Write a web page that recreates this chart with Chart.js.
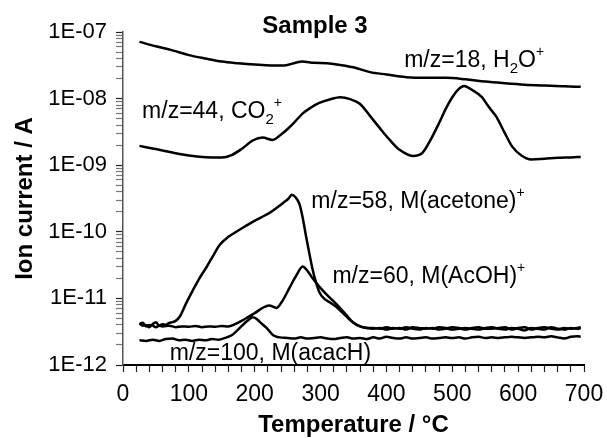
<!DOCTYPE html>
<html>
<head>
<meta charset="utf-8">
<script src="https://cdn.jsdelivr.net/npm/chart.js@4.4.0/dist/chart.umd.min.js"></script>
<style>
  html, body { margin: 0; padding: 0; background: #fff; }
</style>
</head>
<body>
<canvas id="myChart" width="607" height="438"></canvas>
<script>
const ctx = document.getElementById("myChart");

// ion currents (A) vs temperature (°C)
const h2oTemps = [25, 50, 75, 100, 125, 150, 175, 200, 225, 245, 262, 272, 290, 310, 330, 350, 375, 400, 430, 460, 490, 520, 550, 580, 610, 640, 670, 695];
const h2oValues = [7.1e-8, 6.1e-8, 5.3e-8, 4.5e-8, 4.0e-8, 3.6e-8, 3.4e-8, 3.25e-8, 3.15e-8, 3.15e-8, 3.45e-8, 3.6e-8, 3.45e-8, 3.4e-8, 3.2e-8, 2.95e-8, 2.5e-8, 2.3e-8, 2.1e-8, 2.05e-8, 2.05e-8, 1.95e-8, 1.8e-8, 1.7e-8, 1.62e-8, 1.57e-8, 1.53e-8, 1.5e-8];

const co2Temps = [25, 50, 75, 100, 125, 150, 165, 180, 197, 212, 227, 240, 250, 262, 273, 285, 298, 315, 330, 345, 360, 375, 390, 405, 420, 440, 455, 467, 480, 490, 500, 510, 518, 530, 545, 555, 567, 580, 591, 605, 620, 640, 660, 680, 695];
const co2Values = [1.95e-9, 1.75e-9, 1.55e-9, 1.4e-9, 1.32e-9, 1.3e-9, 1.42e-9, 1.75e-9, 2.35e-9, 2.6e-9, 2.4e-9, 2.9e-9, 3.5e-9, 4.6e-9, 6.0e-9, 7.3e-9, 8.6e-9, 9.8e-9, 1.05e-8, 9.8e-9, 8.3e-9, 5.5e-9, 3.6e-9, 2.4e-9, 1.7e-9, 1.38e-9, 1.55e-9, 2.4e-9, 4.3e-9, 7.0e-9, 1.05e-8, 1.4e-8, 1.55e-8, 1.35e-8, 1.05e-8, 7.6e-9, 5.3e-9, 3.0e-9, 1.9e-9, 1.4e-9, 1.22e-9, 1.25e-9, 1.29e-9, 1.31e-9, 1.33e-9];

const acetoneTemps = [25, 30, 35, 40, 45, 50, 55, 60, 65, 70, 75, 80, 86, 96, 106, 116, 127, 137, 147, 160, 172, 185, 197, 210, 223, 235, 245, 252, 256, 262, 268, 273, 278, 283, 288, 293, 298, 305, 315, 325, 338, 350, 360, 370, 380, 390, 400, 410, 420, 430, 440, 450, 460, 470, 480, 490, 500, 510, 520, 530, 540, 550, 560, 570, 580, 590, 600, 610, 620, 630, 640, 650, 660, 670, 680, 690, 695];
const acetoneValues = [4.2e-12, 3.9e-12, 4.0e-12, 3.7e-12, 4.1e-12, 4.4e-12, 3.9e-12, 4.1e-12, 4.0e-12, 4.3e-12, 4.4e-12, 4.6e-12,
  5.3e-12, 8.5e-12, 1.32e-11, 2.0e-11, 2.96e-11, 4.4e-11, 6.4e-11, 8.4e-11, 1.0e-10, 1.2e-10,
  1.41e-10, 1.65e-10, 1.94e-10, 2.35e-10, 2.8e-10, 3.2e-10, 3.6e-10, 3.3e-10, 2.6e-10, 1.6e-10,
  8.5e-11, 4.7e-11, 2.7e-11, 1.75e-11, 1.25e-11, 1.0e-11, 8.6e-12, 7.3e-12, 5.5e-12, 4.3e-12,
  3.8e-12, 3.6e-12,
  3.5e-12, 3.6e-12, 3.4e-12, 3.6e-12, 3.5e-12, 3.7e-12, 3.5e-12, 3.4e-12, 3.6e-12, 3.5e-12,
  3.7e-12, 3.6e-12, 3.4e-12, 3.5e-12, 3.6e-12, 3.5e-12, 3.4e-12, 3.6e-12, 3.7e-12, 3.5e-12,
  3.4e-12, 3.6e-12, 3.5e-12, 3.3e-12, 3.6e-12, 3.5e-12, 3.4e-12, 3.7e-12, 3.5e-12, 3.4e-12,
  3.6e-12, 3.5e-12, 3.6e-12];

const acohTemps = [25, 30, 35, 40, 45, 50, 55, 60, 70, 80, 90, 100, 110, 120, 130, 140, 150, 160, 170, 180, 188, 200, 213, 222, 233, 243, 253, 263, 273, 280, 288, 298, 309, 320, 329, 340, 350, 360, 370, 380, 390, 400, 410, 420, 430, 440, 450, 460, 470, 480, 490, 500, 510, 520, 530, 540, 550, 560, 570, 580, 590, 600, 610, 620, 630, 640, 650, 660, 670, 680, 690, 695];
const acohValues = [4.1e-12, 4.3e-12, 3.8e-12, 4.0e-12, 3.9e-12, 3.7e-12, 3.9e-12, 3.8e-12,
  3.9e-12, 3.7e-12, 3.8e-12, 3.75e-12, 3.85e-12, 3.7e-12, 3.8e-12, 3.75e-12, 3.85e-12, 3.8e-12,
  4.1e-12, 4.6e-12, 5.1e-12, 6.0e-12, 7.3e-12, 7.8e-12, 7.2e-12, 9.5e-12, 1.45e-11, 2.2e-11,
  3.0e-11, 2.6e-11, 2.0e-11, 1.5e-11, 1.15e-11, 9.0e-12, 7.3e-12, 5.5e-12, 4.3e-12, 3.8e-12,
  3.6e-12,
  3.6e-12, 3.5e-12, 3.7e-12, 3.5e-12, 3.6e-12, 3.4e-12, 3.7e-12, 3.6e-12, 3.5e-12, 3.6e-12,
  3.4e-12, 3.5e-12, 3.7e-12, 3.6e-12, 3.4e-12, 3.6e-12, 3.7e-12, 3.5e-12, 3.5e-12, 3.6e-12,
  3.7e-12, 3.4e-12, 3.6e-12, 3.7e-12, 3.4e-12, 3.6e-12, 3.7e-12, 3.5e-12, 3.4e-12, 3.6e-12,
  3.5e-12, 3.6e-12, 3.7e-12];

const acacTemps = [25, 35, 45, 55, 65, 75, 85, 95, 105, 115, 125, 135, 145, 155, 165, 172, 182, 190, 197, 203, 208, 218, 228, 238, 250, 260, 270, 280, 290, 300, 310, 320, 330, 340, 350, 360, 370, 380, 390, 400, 410, 420, 430, 440, 450, 460, 470, 480, 490, 500, 510, 520, 530, 540, 550, 560, 570, 580, 590, 600, 610, 620, 630, 640, 650, 660, 670, 680, 690, 695];
const acacValues = [2.35e-12, 2.3e-12, 2.4e-12, 2.3e-12, 2.45e-12, 2.5e-12, 2.35e-12, 2.4e-12, 2.3e-12, 2.4e-12, 2.35e-12, 2.45e-12, 2.4e-12, 2.55e-12, 2.8e-12,
  3.2e-12, 4.0e-12, 4.7e-12, 5.2e-12, 4.9e-12, 4.4e-12, 3.6e-12, 2.8e-12, 2.6e-12,
  2.55e-12, 2.5e-12, 2.6e-12, 2.5e-12, 2.55e-12, 2.6e-12, 2.5e-12, 2.45e-12, 2.55e-12, 2.6e-12,
  2.5e-12, 2.55e-12, 2.45e-12, 2.6e-12, 2.5e-12, 2.65e-12, 2.55e-12, 2.5e-12, 2.6e-12, 2.5e-12,
  2.55e-12, 2.6e-12, 2.5e-12, 2.55e-12, 2.6e-12, 2.55e-12, 2.6e-12, 2.5e-12, 2.6e-12, 2.65e-12,
  2.55e-12, 2.6e-12, 2.55e-12, 2.6e-12, 2.65e-12, 2.6e-12, 2.55e-12, 2.6e-12, 2.65e-12, 2.6e-12,
  2.7e-12, 2.6e-12, 2.5e-12, 2.65e-12, 2.7e-12, 2.65e-12];

// axis ticks
const yDecades = [1e-12, 1e-11, 1e-10, 1e-9, 1e-8, 1e-7];
const xLabelStep = 100;
const xTickStep = 20;

const FONT = "'Liberation Sans', Arial, Helvetica, sans-serif";
Chart.defaults.font.family = FONT;
Chart.defaults.color = "#000";

const toPoints = (temps, values) => temps.map((t, i) => ({ x: t, y: values[i] }));

const isDecade = (v) => yDecades.some((d) => Math.abs(v / d - 1) < 1e-6);

// text labels next to the curves: [text, kind]
const notes = [
  { x: 427, y: 3.0e-8, parts: [["m/z=18, H"], ["2", "sub"], ["O"], ["+", "sup"]] },
  { x: 29, y: 5.1e-9, parts: [["m/z=44, CO"], ["2", "sub"], ["+", "sup"]] },
  { x: 286, y: 2.25e-10, parts: [["m/z=58, M(acetone)"], ["+", "sup"]] },
  { x: 318, y: 1.7e-11, parts: [["m/z=60, M(AcOH)"], ["+", "sup"]] },
  { x: 71, y: 1.19e-12, parts: [["m/z=100, M(acacH)"]] },
];

const notesPlugin = {
  id: "notes",
  afterDraw(chart) {
    const c = chart.ctx;
    const xs = chart.scales.x;
    const ys = chart.scales.y;
    c.save();
    c.fillStyle = "#000";
    c.textBaseline = "alphabetic";
    c.textAlign = "left";
    notes.forEach((n) => {
      let px = xs.getPixelForValue(n.x);
      const py = ys.getPixelForValue(n.y);
      n.parts.forEach(([text, kind]) => {
        let dy = 0;
        if (kind === "sub") { c.font = "15px " + FONT; dy = 6; }
        else if (kind === "sup") { c.font = "14px " + FONT; dy = -11; }
        else { c.font = "23px " + FONT; }
        c.fillText(text, px, py + dy);
        px += c.measureText(text).width;
      });
    });
    // chart title
    c.font = "bold 24px " + FONT;
    c.textAlign = "center";
    c.fillText("Sample 3", 315, 33);
    c.restore();
  },
};

const myChart = new Chart(ctx, {
  type: "line",
  data: {
    datasets: [
      { label: "m/z=18", data: toPoints(h2oTemps, h2oValues), cubicInterpolationMode: "monotone" },
      { label: "m/z=44", data: toPoints(co2Temps, co2Values), cubicInterpolationMode: "monotone" },
      { label: "m/z=58", data: toPoints(acetoneTemps, acetoneValues), cubicInterpolationMode: "monotone" },
      { label: "m/z=60", data: toPoints(acohTemps, acohValues), cubicInterpolationMode: "monotone" },
      { label: "m/z=100", data: toPoints(acacTemps, acacValues), cubicInterpolationMode: "monotone" },
    ],
  },
  options: {
    responsive: false,
    animation: false,
    devicePixelRatio: 1,
    layout: { padding: { top: 32, right: 23, bottom: 0, left: 0 } },
    elements: {
      point: { radius: 0 },
      line: { borderColor: "#000", borderWidth: 2.5, fill: false },
    },
    plugins: {
      legend: { display: false },
      tooltip: { enabled: false },
    },
    scales: {
      x: {
        type: "linear",
        min: 0,
        max: 700,
        afterFit: (scale) => {
          scale.height = 73;
          scale.paddingLeft = 0;
          scale.paddingRight = 0;
        },
        border: { color: "#000", width: 2 },
        grid: { drawOnChartArea: false, tickLength: 7, tickColor: "#222", tickWidth: 1.2 },
        ticks: {
          stepSize: xTickStep,
          autoSkip: false,
          maxRotation: 0,
          padding: 9,
          font: { size: 23 },
          callback: (v) => (v % xLabelStep === 0 ? String(v) : ""),
        },
        title: {
          display: true,
          text: "Temperature / °C",
          font: { size: 24, weight: "bold", lineHeight: 1 },
          padding: { top: 0, bottom: 1 },
        },
      },
      y: {
        type: "logarithmic",
        min: yDecades[0],
        max: yDecades[yDecades.length - 1],
        afterFit: (scale) => { scale.width = 123; },
        afterBuildTicks: (scale) => {
          const ticks = [];
          for (let i = 0; i < yDecades.length - 1; i++) {
            for (let k = 1; k <= 9; k++) ticks.push({ value: k * yDecades[i] });
          }
          ticks.push({ value: yDecades[yDecades.length - 1] });
          scale.ticks = ticks;
        },
        border: { color: "#555", width: 1.5 },
        grid: {
          drawOnChartArea: false,
          tickLength: 7,
          tickWidth: 1.2,
          tickColor: (c) => (c.tick && isDecade(c.tick.value) ? "#222" : "#777"),
        },
        ticks: {
          autoSkip: false,
          padding: 9,
          font: { size: 22 },
          callback: (v) => {
            if (!isDecade(v)) return "";
            const e = Math.round(-Math.log10(v));
            return "1E-" + String(e).padStart(2, "0");
          },
        },
        title: {
          display: true,
          text: "Ion current / A",
          font: { size: 24, weight: "bold", lineHeight: 1 },
          padding: { top: 13, bottom: 0 },
        },
      },
    },
  },
  plugins: [notesPlugin],
});
</script>
</body>
</html>
